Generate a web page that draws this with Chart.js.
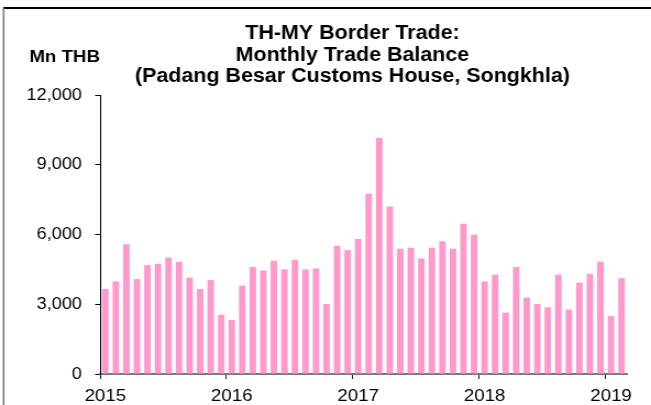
<!DOCTYPE html>
<html>
<head>
<meta charset="utf-8">
<script src="https://cdn.jsdelivr.net/npm/chart.js@4.4.0/dist/chart.umd.min.js"></script>
<style>
  html, body { margin: 0; padding: 0; background: #fff; }
  #wrap { width: 651px; height: 405px; overflow: hidden; }
</style>
</head>
<body>
<div id="wrap">
  <!-- the reference is a bit stretched sideways, so the canvas is drawn narrower and widened by CSS -->
  <canvas id="chart" width="592" height="405" style="display:block;width:651px;height:405px"></canvas>
</div>
<script>
const years = ['2015', '2016', '2017', '2018', '2019'];
const months = ['01', '02', '03', '04', '05', '06', '07', '08', '09', '10', '11', '12'];
const monthCount = 50; // Jan 2015 .. Feb 2019

// Monthly trade balance, Mn THB
const balance = [
  3660, 3980, 5580, 4080, 4680, 4740, 5010, 4830, 4140, 3660, 4040, 2550,
  2320, 3800, 4600, 4450, 4870, 4500, 4910, 4500, 4540, 3010, 5520, 5330,
  5810, 7750, 10150, 7200, 5390, 5430, 4970, 5430, 5710, 5390, 6460, 5990,
  3980, 4270, 2640, 4600, 3290, 3010, 2870, 4270, 2770, 3930, 4310, 4830,
  2490, 4120
];

const titleLines = [
  'TH-MY Border Trade:',
  'Monthly Trade Balance',
  '(Padang Besar Customs House, Songkhla)'
];
const unitLabel = 'Mn THB';

const labels = [];
years.forEach(y => months.forEach(m => labels.push(y + '-' + m)));
labels.length = monthCount;

const FONT = '"Liberation Sans", Arial, sans-serif';

// frame, title and unit text
const decor = {
  id: 'decor',
  afterDraw(chart) {
    const ctx = chart.ctx;
    ctx.save();
    ctx.strokeStyle = '#000';
    ctx.lineWidth = 2;
    ctx.beginPath();
    ctx.moveTo(3, 8);
    ctx.lineTo(chart.width, 8);
    ctx.stroke();
    ctx.strokeStyle = '#777';
    ctx.lineWidth = 1.5;
    ctx.beginPath();
    ctx.moveTo(3.3, 8);
    ctx.lineTo(3.3, chart.height);
    ctx.stroke();

    ctx.fillStyle = '#000';
    ctx.textAlign = 'center';
    ctx.textBaseline = 'alphabetic';
    ctx.font = 'bold 19.5px ' + FONT;
    const base = [38.5, 60.5, 82];
    titleLines.forEach((t, i) => ctx.fillText(t, 320.5, base[i]));

    ctx.font = 'bold 17px ' + FONT;
    ctx.fillText(unitLabel, 58.8, 61.5);
    ctx.restore();
  }
};

new Chart(document.getElementById('chart'), {
  type: 'bar',
  data: {
    labels: labels,
    datasets: [{
      data: balance,
      backgroundColor: '#FF99CC',
      borderWidth: 0,
      barPercentage: 0.62,
      categoryPercentage: 1
    }]
  },
  options: {
    responsive: false,
    animation: false,
    devicePixelRatio: 1,
    layout: { padding: { top: 95, right: 22, bottom: 0, left: 0 } },
    plugins: {
      legend: { display: false },
      title: { display: false },
      tooltip: { enabled: false }
    },
    scales: {
      x: {
        type: 'category',
        offset: true,
        grid: {
          offset: true,
          drawOnChartArea: false,
          drawTicks: true,
          tickLength: 5,
          color: c => (c.index % 12 === 0 ? '#222' : 'rgba(0,0,0,0)')
        },
        border: { color: '#777', width: 2 },
        ticks: {
          autoSkip: false,
          maxRotation: 0,
          padding: 7,
          color: '#000',
          font: { family: FONT, size: 17 },
          callback: (v, i) => (i % 12 === 0 ? labels[i].slice(0, 4) : '')
        },
        afterFit: s => { s.height = 31; }
      },
      y: {
        min: 0,
        max: 12000,
        grid: { drawOnChartArea: false, drawTicks: true, tickLength: 4.5, color: '#000' },
        border: { color: '#000', width: 1 },
        ticks: {
          stepSize: 3000,
          padding: 12,
          color: '#000',
          font: { family: FONT, size: 16.5 },
          callback: v => v.toLocaleString('en-US')
        },
        afterFit: s => { s.width = 91; }
      }
    }
  },
  plugins: [decor]
});
</script>
</body>
</html>
